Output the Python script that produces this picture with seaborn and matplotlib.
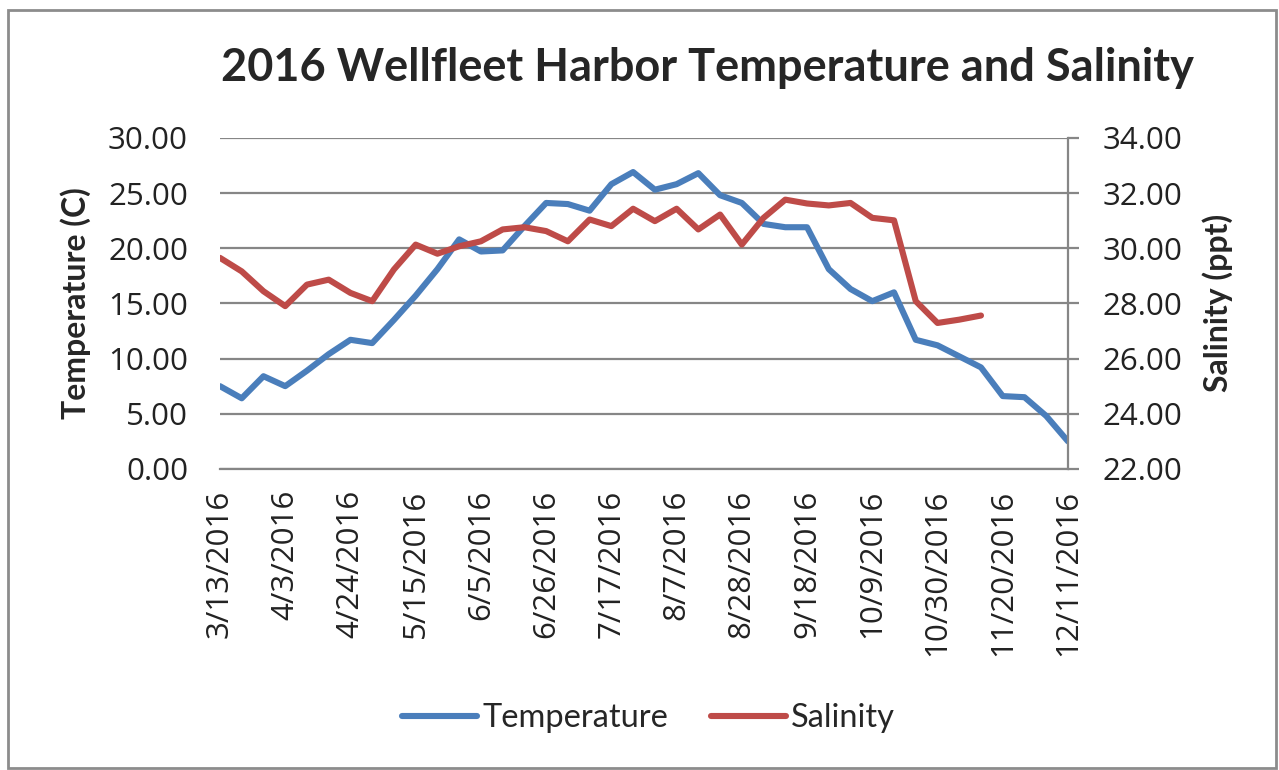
import numpy as np
import pandas as pd
import seaborn as sns
import matplotlib.pyplot as plt
from matplotlib.patches import Rectangle
from matplotlib.lines import Line2D

# weekly samples, 3/13/2016 .. 12/11/2016
dates = pd.date_range("2016-03-13", periods=40, freq="7D")

temperature = [7.5, 6.4, 8.4, 7.5, 8.9, 10.4, 11.7, 11.4, 13.5, 15.7,
               18.1, 20.8, 19.7, 19.8, 22.0, 24.1, 24.0, 23.4, 25.8, 26.9,
               25.3, 25.8, 26.8, 24.8, 24.1, 22.2, 21.9, 21.9, 18.1, 16.3,
               15.2, 16.0, 11.7, 11.2, 10.2, 9.2, 6.6, 6.5, 4.8, 2.5]

salinity = [29.65, 29.16, 28.44, 27.90, 28.68, 28.86, 28.38, 28.08, 29.23, 30.13,
            29.80, 30.07, 30.25, 30.68, 30.76, 30.62, 30.25, 31.04, 30.80, 31.43,
            30.98, 31.43, 30.68, 31.22, 30.13, 31.10, 31.76, 31.62, 31.55, 31.64,
            31.10, 31.01, 28.08, 27.29, 27.41, 27.56, np.nan, np.nan, np.nan, np.nan]

df = pd.DataFrame({"date": dates, "Temperature": temperature, "Salinity": salinity})

sns.set_theme(style="white")
plt.rcParams["font.family"] = ["Open Sans", "DejaVu Sans"]

blue = "#4a7ebb"
red = "#be4b48"
grid_c = "#868686"
bold_font = ["Lato", "DejaVu Sans"]

fig = plt.figure(figsize=(12.79, 7.70), dpi=100)
ax = fig.add_axes([0.172, 0.391, 0.663, 0.430])
ax2 = ax.twinx()

sns.lineplot(data=df, x="date", y="Temperature", ax=ax, color=blue, lw=4.4, legend=False)
sns.lineplot(data=df, x="date", y="Salinity", ax=ax2, color=red, lw=4.4, legend=False)

ax.set_xlim(dates[0], dates[-1])
ax.set_ylim(0, 30)
ax.set_yticks(np.arange(0, 30.1, 5))
ax.set_yticklabels([f"{v:.2f}" for v in np.arange(0, 30.1, 5)], fontsize=22.5)
ax2.set_ylim(22, 34)
ax2.set_yticks(np.arange(22, 34.1, 2))
ax2.set_yticklabels([f"{v:.2f}" for v in np.arange(22, 34.1, 2)], fontsize=22.5)

xt = dates[::3]
ax.set_xticks(xt)
ax.set_xticklabels([f"{d.month}/{d.day}/{d.year}" for d in xt], rotation=90, fontsize=22.5,
                   va="top", ha="center")

ax.grid(axis="y", color=grid_c, lw=1.6)
ax.set_axisbelow(True)
for a in (ax, ax2):
    for s in a.spines.values():
        s.set_visible(False)
ax.spines["bottom"].set_visible(True)
ax.spines["bottom"].set_color(grid_c)
ax.spines["bottom"].set_linewidth(1.6)
ax2.spines["right"].set_visible(True)
ax2.spines["right"].set_color(grid_c)
ax2.spines["right"].set_linewidth(1.6)

ax.tick_params(axis="y", length=0, pad=23, colors="#222222")
ax.tick_params(axis="x", length=0, pad=15, colors="#222222")
ax2.tick_params(axis="y", length=8, width=1.6, color=grid_c, pad=17, labelcolor="#222222")

ax.set_xlabel("")
ax.set_ylabel("Temperature (C)", fontsize=23, fontweight="bold", family=bold_font, labelpad=12)
ax2.set_ylabel("Salinity (ppt)", fontsize=23, fontweight="bold", family=bold_font, labelpad=14)

fig.text(0.553, 0.912, "2016 Wellfleet Harbor Temperature and Salinity", ha="center", va="center",
         fontsize=32.5, fontweight="bold", family=bold_font)

handles = [Line2D([], [], color=blue, lw=4.4), Line2D([], [], color=red, lw=4.4)]
fig.legend(handles, ["Temperature", "Salinity"], loc="center", bbox_to_anchor=(0.507, 0.0675),
           ncol=2, frameon=False, handlelength=2.3, handletextpad=0.15,
           columnspacing=1.3, prop={"family": bold_font[:1] + ["DejaVu Sans"], "size": 23.5})

fig.add_artist(Rectangle((0.006, 0.003), 0.992, 0.984, transform=fig.transFigure,
                         fill=False, edgecolor="#8c8c8c", lw=2))

fig.savefig("out.png", dpi=100)
